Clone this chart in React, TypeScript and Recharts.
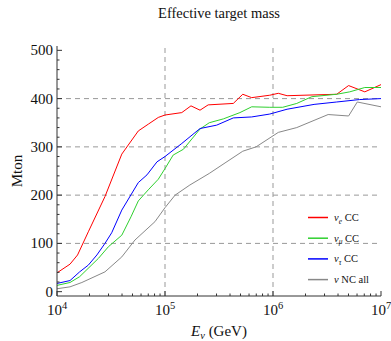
import { LineChart, Line, XAxis, YAxis, ReferenceLine, Legend } from 'recharts';

const FONT = '"Liberation Serif", "Times New Roman", serif';
const FRAME = '#333';

// energies in GeV, effective mass in Mton
const nueE = [1e4, 13200, 15500, 19500, 27800, 39800, 56600, 70000, 86700, 1e5, 143000, 174000, 211000, 251000, 429000, 525000, 635000, 933000, 1.12e6, 1.35e6, 3.89e6, 5.01e6, 7.08e6, 1e7];
const nueMass = [39, 57, 76, 124, 197, 285, 333, 347, 361, 366, 371, 385, 376, 387, 390, 409, 402, 407, 411, 406, 409, 427, 414, 429];

const numuE = [1e4, 13200, 16200, 24200, 29900, 39800, 48400, 56600, 70000, 86700, 1e5, 119000, 148000, 211000, 257000, 347000, 494000, 635000, 933000, 1.23e6, 1.66e6, 2.29e6, 3.89e6, 5.13e6, 7.08e6, 1e7];
const numuMass = [13, 19, 31, 69, 93, 117, 155, 188, 211, 233, 255, 283, 295, 337, 350, 358, 371, 383, 382, 382, 390, 404, 409, 414, 423, 423];

const nutauE = [1e4, 13200, 16200, 19500, 23400, 27800, 32100, 39800, 56600, 68100, 84300, 1e5, 143000, 211000, 301000, 429000, 635000, 933000, 1.35e6, 2.4e6, 3.89e6, 6.31e6, 1e7];
const nutauMass = [17, 23, 41, 55, 76, 100, 122, 169, 226, 242, 269, 280, 307, 338, 345, 360, 362, 368, 378, 388, 393, 398, 400];

const ncE = [1e4, 13200, 17000, 27800, 39800, 52700, 80700, 1e5, 124000, 170000, 257000, 367000, 525000, 697000, 1.12e6, 1.66e6, 3.24e6, 5.01e6, 6.03e6, 1e7];
const ncMass = [6, 10, 19, 41, 72, 107, 145, 174, 200, 221, 245, 268, 291, 300, 330, 340, 367, 364, 393, 383];

const xMajor = [1e4, 1e5, 1e6, 1e7];
const xMinorSteps = [2, 3, 4, 5, 6, 7, 8, 9];
const yMinorStep = 20;
const gridX = [1e5, 1e6];
const gridY = [100, 200, 300, 400];

const xTicks = [...xMajor, ...xMajor.slice(0, -1).flatMap((d) => xMinorSteps.map((k) => k * d))].sort((a, b) => a - b);
const yTicks = Array.from({ length: 500 / yMinorStep + 1 }, (_, i) => i * yMinorStep);

const SERIES = [
  { key: 'nue', E: nueE, M: nueMass, color: '#ff0000', nu: 'ν', sub: 'e', rest: ' CC' },
  { key: 'numu', E: numuE, M: numuMass, color: '#2fd02f', nu: 'ν', sub: 'μ', rest: ' CC' },
  { key: 'nutau', E: nutauE, M: nutauMass, color: '#0000ff', nu: 'ν', sub: 'τ', rest: ' CC' },
  { key: 'nc', E: ncE, M: ncMass, color: '#888888', nu: 'ν', sub: '', rest: ' NC all' },
];

const toPoints = (E: number[], M: number[]) => E.map((e, i) => ({ e, m: M[i] }));

const isMajorX = (v: number) => Math.abs(Math.log10(v) - Math.round(Math.log10(v))) < 1e-6;
const isMajorY = (v: number) => v % 100 === 0;

function BottomTick({ x, y, payload }: any) {
  const major = isMajorX(payload.value);
  return (
    <g>
      <line x1={x} x2={x} y1={y} y2={y - (major ? 5 : 2.5)} stroke={FRAME} />
      {major && (
        <text x={x} y={y + 19} textAnchor="middle" fontFamily={FONT} fontSize={15} fill="#111">
          10<tspan dy={-6} fontSize={10.5}>{Math.round(Math.log10(payload.value))}</tspan>
        </text>
      )}
    </g>
  );
}

function TopTick({ x, y, payload }: any) {
  const major = isMajorX(payload.value);
  return <line x1={x} x2={x} y1={y} y2={y + (major ? 5 : 2.5)} stroke={FRAME} />;
}

function LeftTick({ x, y, payload }: any) {
  const major = isMajorY(payload.value);
  return (
    <g>
      <line x1={x} x2={x + (major ? 5 : 2.5)} y1={y} y2={y} stroke={FRAME} />
      {major && (
        <text x={x - 4} y={y + 5} textAnchor="end" fontFamily={FONT} fontSize={15} fill="#111">
          {payload.value}
        </text>
      )}
    </g>
  );
}

function RightTick({ x, y, payload }: any) {
  const major = isMajorY(payload.value);
  return <line x1={x} x2={x - (major ? 5 : 2.5)} y1={y} y2={y} stroke={FRAME} />;
}

function XLabel(props: any) {
  const vb = props.viewBox || { x: 57, y: 296, width: 324 };
  return (
    <text x={vb.x + vb.width / 2} y={vb.y + 40} textAnchor="middle" fontFamily={FONT} fontSize={15} fill="#111">
      <tspan fontStyle="italic">E</tspan>
      <tspan fontStyle="italic" fontSize={10.5} dy={3}>ν</tspan>
      <tspan dy={-3}> (GeV)</tspan>
    </text>
  );
}

function YLabel(props: any) {
  const vb = props.viewBox || { x: 0, y: 46, height: 250 };
  const cx = 21.5;
  const cy = vb.y + vb.height / 2;
  return (
    <text x={cx} y={cy} transform={`rotate(-90, ${cx}, ${cy})`} textAnchor="middle" fontFamily={FONT} fontSize={15} fill="#111">
      Mton
    </text>
  );
}

// legend drawn as a small svg; rows 20.7px apart
function LegendBox() {
  return (
    <svg width={80} height={84} style={{ display: 'block' }}>
      {SERIES.map((s, i) => {
        const y = 10.5 + i * 20.7;
        return (
          <g key={s.key}>
            <line x1={3} x2={23} y1={y} y2={y} stroke={s.color} strokeWidth={1.5} />
            <text x={29} y={y + 3.5} fontFamily={FONT} fontSize={10.5} fill="#111">
              <tspan fontStyle="italic">{s.nu}</tspan>
              {s.sub && (
                <tspan fontStyle="italic" fontSize={7.5} dy={2.5}>
                  {s.sub}
                </tspan>
              )}
              <tspan dy={s.sub ? -2.5 : 0}>{s.rest}</tspan>
            </text>
          </g>
        );
      })}
    </svg>
  );
}

export default function App() {
  return (
    <div style={{ position: 'absolute', left: 0, top: 0, width: 391, height: 341, background: '#fff' }}>
      <div
        style={{
          position: 'absolute',
          left: 119,
          top: 5.5,
          width: 200,
          textAlign: 'center',
          fontFamily: FONT,
          fontSize: 14.5,
          lineHeight: '15px',
          color: '#111',
        }}
      >
        Effective target mass
      </div>
      <LineChart width={391} height={341} margin={{ top: 46, right: 10, bottom: 0, left: 0 }}>
        <XAxis
          xAxisId="b"
          type="number"
          dataKey="e"
          scale="log"
          domain={[1e4, 1e7]}
          allowDataOverflow
          ticks={xTicks}
          interval={0}
          height={45}
          tickSize={0}
          tickMargin={0}
          tickLine={false}
          tick={<BottomTick />}
          axisLine={{ stroke: FRAME }}
          label={XLabel}
        />
        <XAxis
          xAxisId="t"
          orientation="top"
          type="number"
          dataKey="e"
          scale="log"
          domain={[1e4, 1e7]}
          allowDataOverflow
          ticks={xTicks}
          interval={0}
          height={0}
          tickSize={0}
          tickMargin={0}
          tickLine={false}
          tick={<TopTick />}
          axisLine={{ stroke: FRAME }}
        />
        <YAxis
          yAxisId="l"
          type="number"
          domain={[-9, 509]}
          allowDataOverflow
          ticks={yTicks}
          interval={0}
          width={57}
          tickSize={0}
          tickMargin={0}
          tickLine={false}
          tick={<LeftTick />}
          axisLine={{ stroke: FRAME }}
          label={YLabel}
        />
        <YAxis
          yAxisId="r"
          orientation="right"
          type="number"
          domain={[-9, 509]}
          allowDataOverflow
          ticks={yTicks}
          interval={0}
          width={0}
          tickSize={0}
          tickMargin={0}
          tickLine={false}
          tick={<RightTick />}
          axisLine={{ stroke: FRAME }}
        />
        {gridX.map((v) => (
          <ReferenceLine key={`gx${v}`} x={v} xAxisId="b" yAxisId="l" stroke="#999" strokeDasharray="5 4" />
        ))}
        {gridY.map((v) => (
          <ReferenceLine key={`gy${v}`} y={v} xAxisId="b" yAxisId="l" stroke="#999" strokeDasharray="5 4" />
        ))}
        {SERIES.map((s) => (
          <Line
            key={s.key}
            xAxisId="b"
            yAxisId="l"
            data={toPoints(s.E, s.M)}
            dataKey="m"
            type="linear"
            stroke={s.color}
            strokeWidth={1}
            dot={false}
            isAnimationActive={false}
          />
        ))}
        <Legend
          layout="vertical"
          align="center"
          verticalAlign="middle"
          content={<LegendBox />}
          wrapperStyle={{ left: 305, top: 206.5, width: 80 }}
        />
      </LineChart>
    </div>
  );
}
